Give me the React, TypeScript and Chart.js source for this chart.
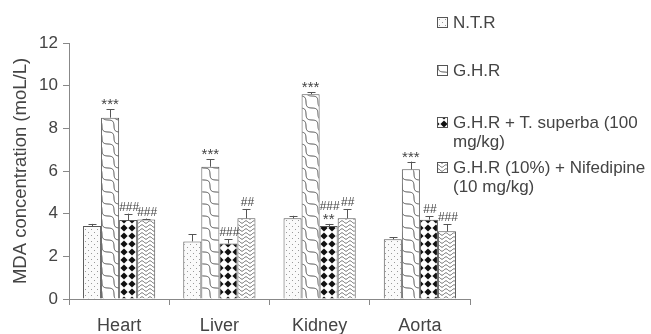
import React, { useEffect, useRef } from "react";
import { Chart, registerables } from "chart.js";

Chart.register(...registerables);

const categories = ["Heart", "Liver", "Kidney", "Aorta"];
const seriesNames = [
  "N.T.R",
  "G.H.R",
  "G.H.R + T. superba (100 mg/kg)",
  "G.H.R (10%) + Nifedipine (10 mg/kg)",
];
const legendLines = [
  ["N.T.R"],
  ["G.H.R"],
  ["G.H.R + T. superba (100", "mg/kg)"],
  ["G.H.R (10%) + Nifedipine", "(10 mg/kg)"],
];
const ntr = [3.42, 2.7, 3.78, 2.8];
const ghr = [8.5, 6.2, 9.6, 6.08];
const superba = [3.7, 2.6, 3.42, 3.72];
const nifedipine = [3.73, 3.78, 3.78, 3.17];
const ntrErr = [0.1, 0.33, 0.12, 0.1];
const ghrErr = [0.39, 0.35, 0.09, 0.36];
const superbaErr = [0.3, 0.21, 0.1, 0.17];
const nifedipineErr = [0.04, 0.44, 0.44, 0.33];
const marks = [
  ["", "***", "###", "###"],
  ["", "***", "###", "##"],
  ["", "***", "###\n**", "##"],
  ["", "***", "##", "###"],
];
const yTicks = [0, 2, 4, 6, 8, 10, 12];

function makeTile(w: number, h: number, draw: (c: CanvasRenderingContext2D) => void) {
  const cv = document.createElement("canvas");
  cv.width = w;
  cv.height = h;
  const c = cv.getContext("2d")!;
  draw(c);
  return c.createPattern(cv, "repeat")!;
}

function patterns() {
  const dots = makeTile(6, 6, (c) => {
    c.fillStyle = "#fafafa";
    c.fillRect(0, 0, 6, 6);
    c.fillStyle = "#9a9a9a";
    c.fillRect(1, 1, 1, 1);
    c.fillRect(4, 4, 1, 1);
  });
  const P = 12;
  const waveDiag = makeTile(P, P, (c) => {
    c.fillStyle = "#ffffff";
    c.fillRect(0, 0, P, P);
    c.strokeStyle = "#555";
    c.lineWidth = 1;
    for (const sx of [-P, 0, P]) {
      c.beginPath();
      for (let t = -P; t <= 2 * P; t += 0.5) {
        const a = 2.4 * Math.sin((2 * Math.PI * t) / P);
        const x = t + a / Math.SQRT2 + sx;
        const y = t - a / Math.SQRT2;
        if (t === -P) c.moveTo(x, y);
        else c.lineTo(x, y);
      }
      c.stroke();
    }
  });
  const diamonds = makeTile(8, 8, (c) => {
    c.fillStyle = "#ffffff";
    c.fillRect(0, 0, 8, 8);
    c.fillStyle = "#111";
    c.beginPath();
    c.moveTo(4, 0.4);
    c.lineTo(7.6, 4);
    c.lineTo(4, 7.6);
    c.lineTo(0.4, 4);
    c.closePath();
    c.fill();
  });
  const waveH = makeTile(8, 4, (c) => {
    c.fillStyle = "#ffffff";
    c.fillRect(0, 0, 8, 4);
    c.strokeStyle = "#666";
    c.lineWidth = 1;
    c.beginPath();
    for (let x = 0; x <= 8; x += 0.5) {
      const y = 2 + 1.2 * Math.sin((2 * Math.PI * x) / 8);
      if (x === 0) c.moveTo(x, y);
      else c.lineTo(x, y);
    }
    c.stroke();
  });
  return [dots, waveDiag, diamonds, waveH];
}

const FONT = "'Liberation Sans', Arial, sans-serif";

export default function App() {
  const ref = useRef<HTMLCanvasElement>(null);
  useEffect(() => {
    const pats = patterns();
    const values = [ntr, ghr, superba, nifedipine];
    const errs = [ntrErr, ghrErr, superbaErr, nifedipineErr];
    const overlay = {
      id: "overlay",
      afterDatasetsDraw(chart: any) {
        const ctx = chart.ctx;
        const y = chart.scales.y;
        ctx.save();
        ctx.lineWidth = 1;
        values.forEach((vals, di) => {
          const meta = chart.getDatasetMeta(di);
          meta.data.forEach((bar: any, i: number) => {
            const top = y.getPixelForValue(vals[i]);
            const et = y.getPixelForValue(vals[i] + errs[di][i]);
            const x = Math.round(bar.x) + 0.5;
            ctx.strokeStyle = "#555";
            ctx.beginPath();
            ctx.moveTo(x, top);
            ctx.lineTo(x, et);
            ctx.moveTo(x - 4, Math.round(et) + 0.5);
            ctx.lineTo(x + 4, Math.round(et) + 0.5);
            ctx.stroke();
            const m = marks[i][di];
            if (m) {
              ctx.fillStyle = "#444";
              ctx.textAlign = "center";
              ctx.textBaseline = "alphabetic";
              const lines = m.split("\n").reverse();
              lines.forEach((ln, k) => {
                const isStar = ln.startsWith("*");
                ctx.font = isStar ? `15px ${FONT}` : `12px ${FONT}`;
                ctx.fillText(ln, bar.x + (isStar ? 0 : 1), et - 3 - k * 11 + (isStar ? 3 : 0));
              });
            }
          });
        });
        // legend
        const lx = 437;
        const rows = [22, 70, 122, 167];
        legendLines.forEach((lines, di) => {
          const cy = rows[di];
          ctx.fillStyle = pats[di];
          ctx.fillRect(lx, cy - 5, 11, 11);
          ctx.strokeStyle = "#555";
          ctx.strokeRect(lx + 0.5, cy - 4.5, 10, 10);
          ctx.fillStyle = "#444";
          ctx.font = `17px ${FONT}`;
          ctx.textAlign = "left";
          ctx.textBaseline = "middle";
          lines.forEach((ln, k) => {
            ctx.fillText(ln, lx + 16, cy + 1 + k * 19);
          });
        });
        ctx.restore();
      },
    };
    const chart = new Chart(ref.current!, {
      type: "bar",
      data: {
        labels: categories,
        datasets: values.map((v, i) => ({
          label: seriesNames[i],
          data: v,
          backgroundColor: pats[i],
          borderColor: "#555",
          borderWidth: 1,
          categoryPercentage: 0.72,
          barPercentage: 1,
        })),
      },
      options: {
        animation: false,
        responsive: false,
        maintainAspectRatio: false,
        layout: { padding: { left: 0, right: 181, top: 43, bottom: 0 } },
        plugins: { legend: { display: false }, tooltip: { enabled: false } },
        scales: {
          x: {
            grid: {
              display: true,
              drawOnChartArea: false,
              offset: true,
              tickLength: 6,
              color: "#888",
            },
            border: { color: "#888", width: 1 },
            ticks: { color: "#444", font: { size: 18, family: FONT }, padding: 10 },
            afterFit(s: any) {
              s.height = 35;
            },
          },
          y: {
            min: 0,
            max: 12,
            afterBuildTicks(s: any) {
              s.ticks = yTicks.map((v) => ({ value: v }));
            },
            grid: { display: true, drawOnChartArea: false, tickLength: 6, color: "#888" },
            border: { color: "#888", width: 1 },
            ticks: { color: "#444", font: { size: 17, family: FONT }, padding: 5 },
            title: {
              display: true,
              text: "MDA concentration (moL/L)",
              color: "#444",
              font: { size: 18.5, family: FONT },
              padding: { top: 10, bottom: 2 },
            },
            afterFit(s: any) {
              s.width = 69;
            },
          },
        },
      },
      plugins: [overlay],
    });
    return () => chart.destroy();
  }, []);
  return (
    <div style={{ position: "fixed", left: 0, top: 0, width: 651, height: 334, background: "#fff" }}>
      <canvas ref={ref} width={651} height={334} style={{ width: 651, height: 334 }} />
    </div>
  );
}
